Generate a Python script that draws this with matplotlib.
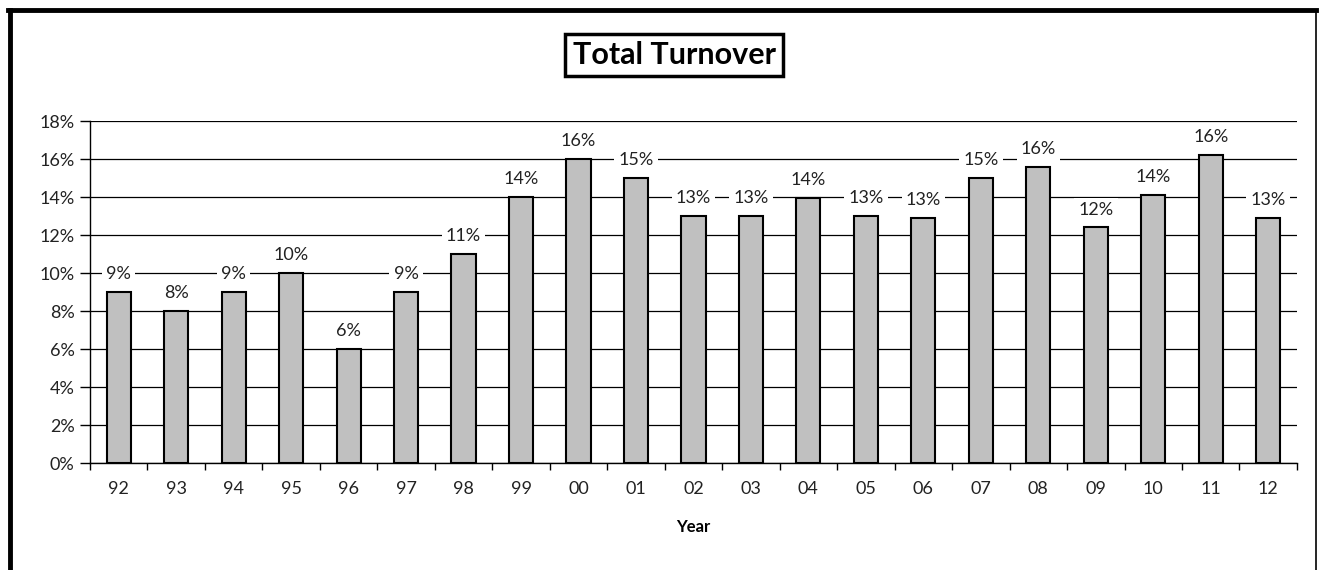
import numpy as np
import matplotlib.pyplot as plt
from matplotlib.lines import Line2D
from matplotlib.ticker import FuncFormatter

years = ['92', '93', '94', '95', '96', '97', '98', '99', '00', '01', '02',
         '03', '04', '05', '06', '07', '08', '09', '10', '11', '12']
turnover = [9.0, 8.0, 9.0, 10.0, 6.0, 9.0, 11.0, 14.0, 16.0, 15.0, 13.0,
            13.0, 13.95, 13.0, 12.9, 15.0, 15.6, 12.4, 14.1, 16.2, 12.9]
yticks = [0, 2, 4, 6, 8, 10, 12, 14, 16, 18]

plt.rcParams['font.family'] = ['Lato', 'DejaVu Sans']

fig = plt.figure(figsize=(13.19, 5.70), dpi=100)
ax = fig.add_axes([0.0682, 0.1877, 0.9151, 0.6])

x = np.arange(len(years))
ax.bar(x, turnover, width=0.42, color='#c0c0c0', edgecolor='black', linewidth=1.5, zorder=3)

for xi, v in zip(x, turnover):
    ax.annotate('%d%%' % round(v), (xi, v), xytext=(0, 7), textcoords='offset points',
                ha='center', va='bottom', fontsize=13, color='#222222', zorder=4,
                bbox=dict(facecolor='white', edgecolor='none', pad=3))

ax.set_xlim(-0.5, len(years) - 0.5)
ax.set_ylim(0, 18)
ax.set_yticks(yticks)
ax.yaxis.set_major_formatter(FuncFormatter(lambda v, p: '%d%%' % v))
ax.yaxis.grid(True, color='black', linewidth=0.9, zorder=0)
ax.set_axisbelow(True)

ax.set_xticks(x)
ax.set_xticklabels(years)
ax.set_xticks(np.arange(-0.5, len(years)), minor=True)
ax.tick_params(axis='x', which='major', length=0, pad=13, labelsize=13, labelcolor='#222222')
ax.tick_params(axis='x', which='minor', length=5, width=1, direction='out')
ax.tick_params(axis='y', length=7, width=1, direction='out', labelsize=13, labelcolor='#222222', pad=4)

for s in ['top', 'right']:
    ax.spines[s].set_visible(False)
for s in ['left', 'bottom']:
    ax.spines[s].set_linewidth(1)

ax.set_xlabel('Year', fontsize=12, fontweight='bold', labelpad=16)

fig.text(0.511, 0.903, 'Total Turnover', ha='center', va='center', fontsize=22, fontweight='bold',
         bbox=dict(facecolor='white', edgecolor='black', linewidth=2.5, pad=5))

# frame around the chart
fig.add_artist(Line2D([0.0076, 0.0076], [0, 0.982], color='black', linewidth=3.5))
fig.add_artist(Line2D([0.0061, 0.998], [0.982, 0.982], color='black', linewidth=3.5))
fig.add_artist(Line2D([0.998, 0.998], [0, 0.982], color='black', linewidth=1.2))

fig.savefig('out.png', dpi=100)
